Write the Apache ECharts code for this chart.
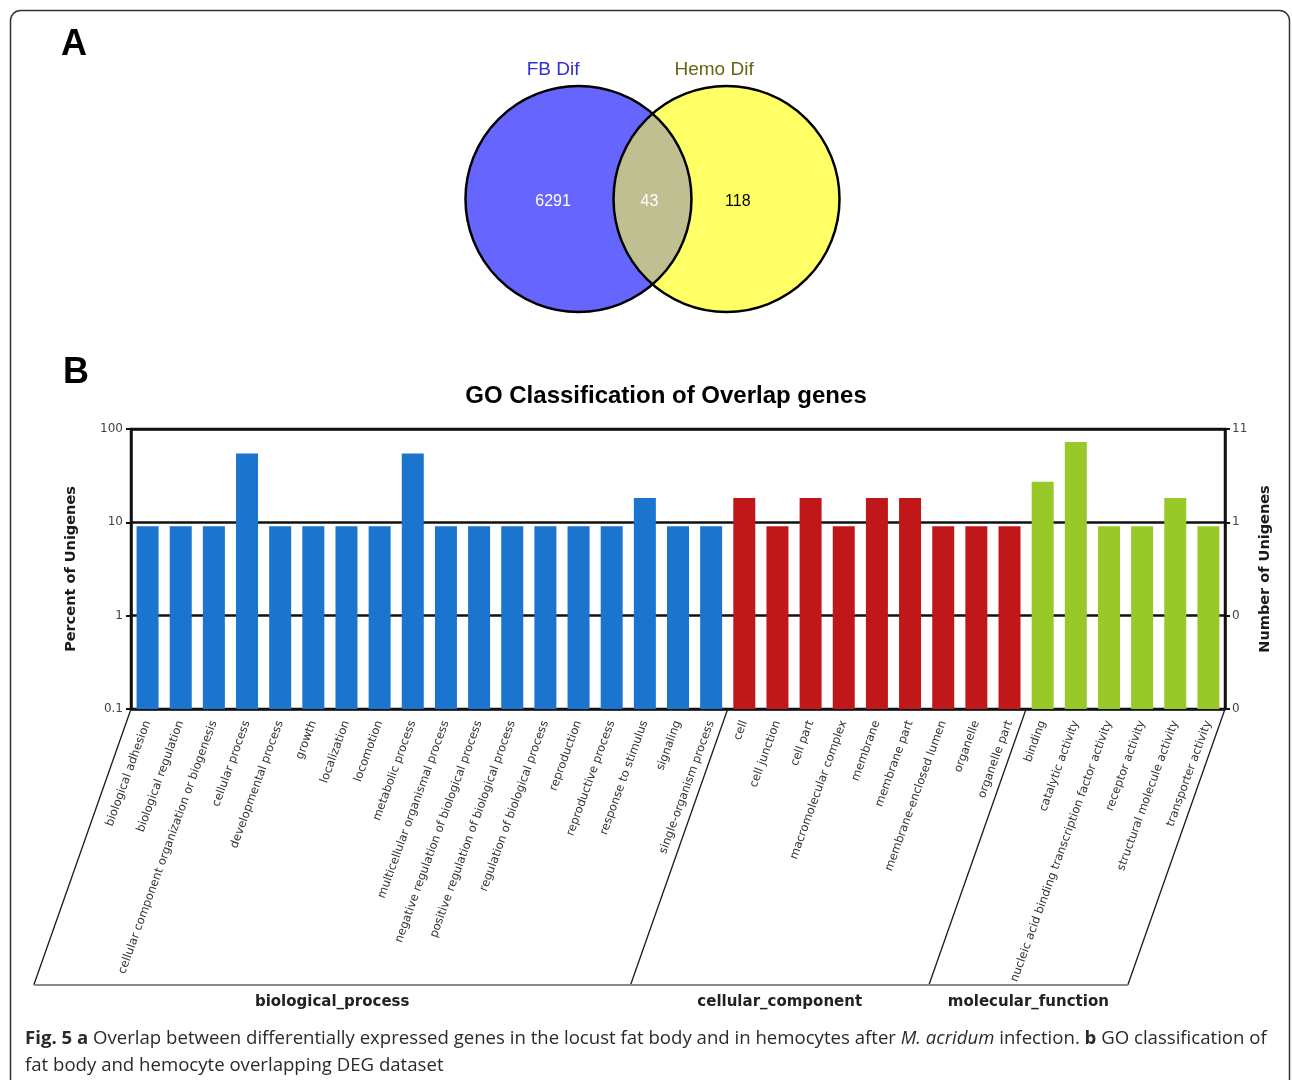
<!DOCTYPE html>
<html>
<head>
<meta charset="utf-8">
<script src="https://cdn.jsdelivr.net/npm/echarts@6/dist/echarts.min.js"></script>
<style>
  html, body { margin: 0; padding: 0; background: #ffffff; }
  #chart { width: 1292px; height: 1080px; }
</style>
</head>
<body>
<div id="chart"></div>
<script>
// ---- Panel A: Venn overlap of differentially expressed genes ----
const VENN_SETS = ['FB Dif', 'Hemo Dif'];
const VENN_ONLY = [6291, 118];     // genes found only in FB / only in Hemo
const VENN_SHARED = 43;            // genes found in both

// ---- Panel B: GO classification of the overlapping genes ----
const GO_GROUPS = ['biological_process', 'cellular_component', 'molecular_function'];
const BP_TERMS = [
  'biological adhesion', 'biological regulation', 'cellular component organization or biogenesis',
  'cellular process', 'developmental process', 'growth', 'localization', 'locomotion',
  'metabolic process', 'multicellular organismal process', 'negative regulation of biological process',
  'positive regulation of biological process', 'regulation of biological process', 'reproduction',
  'reproductive process', 'response to stimulus', 'signaling', 'single-organism process'
];
const BP_GENES = [1, 1, 1, 6, 1, 1, 1, 1, 6, 1, 1, 1, 1, 1, 1, 2, 1, 1];
const CC_TERMS = [
  'cell', 'cell junction', 'cell part', 'macromolecular complex', 'membrane', 'membrane part',
  'membrane-enclosed lumen', 'organelle', 'organelle part'
];
const CC_GENES = [2, 1, 2, 1, 2, 2, 1, 1, 1];
const MF_TERMS = [
  'binding', 'catalytic activity', 'nucleic acid binding transcription factor activity',
  'receptor activity', 'structural molecule activity', 'transporter activity'
];
const MF_GENES = [3, 8, 1, 1, 2, 1];
const TOTAL_GENES = 11;
const PERCENT_MIN = 0.1;
const PERCENT_MAX = 100;

const GROUP_COLORS = ['#1b74cd', '#c0181a', '#99c829'];

const groupTerms = [BP_TERMS, CC_TERMS, MF_TERMS];
const groupGenes = [BP_GENES, CC_GENES, MF_GENES];
const categories = [].concat(BP_TERMS, CC_TERMS, MF_TERMS);
const barData = [];
const groupSpans = [];
groupTerms.forEach((terms, g) => {
  const start = barData.length;
  terms.forEach((t, k) => {
    barData.push([barData.length, groupGenes[g][k] / TOTAL_GENES * 100, g]);
  });
  groupSpans.push({ value: [start, 1, barData.length - 1], name: GO_GROUPS[g] });
});

const chart = echarts.init(document.getElementById('chart'), null, { renderer: 'canvas' });

const BAR_W = 22;
const BRACKET_DROP = 276;
const BRACKET_SHIFT = BRACKET_DROP / Math.tan(70.6 * Math.PI / 180);
const VENN_OFFSET = 0.655;

function renderBar(params, api) {
  const idx = api.value(0);
  const top = api.coord([idx, api.value(1)]);
  const base = api.coord([idx, PERCENT_MIN]);
  return {
    type: 'rect',
    shape: { x: top[0] - BAR_W / 2, y: top[1], width: BAR_W, height: base[1] - top[1] },
    style: { fill: GROUP_COLORS[api.value(2)] }
  };
}

function renderBracket(params, api) {
  const start = api.value(0), end = api.value(2);
  const band = api.coord([1, 1])[0] - api.coord([0, 1])[0];
  const y0 = api.coord([start, PERCENT_MIN])[1];
  const xl = api.coord([start, 1])[0] - band / 2;
  const xr = api.coord([end, 1])[0] + band / 2;
  const yb = y0 + BRACKET_DROP;
  const lineStyle = { stroke: '#1a1a1a', lineWidth: 1.3 };
  const children = [];
  if (params.dataIndex === 0) {
    children.push({ type: 'line', shape: { x1: xl, y1: y0, x2: xl - BRACKET_SHIFT, y2: yb }, style: lineStyle });
  }
  children.push({ type: 'line', shape: { x1: xr, y1: y0, x2: xr - BRACKET_SHIFT, y2: yb }, style: lineStyle });
  children.push({ type: 'line', shape: { x1: xl - BRACKET_SHIFT, y1: yb, x2: xr - BRACKET_SHIFT, y2: yb },
    style: { stroke: '#8a8a8a', lineWidth: 2.2 } });
  children.push({
    type: 'text',
    style: {
      text: GO_GROUPS[params.dataIndex],
      x: (xl + xr) / 2 - BRACKET_SHIFT, y: yb + 17,
      align: 'center', verticalAlign: 'middle',
      font: 'bold 15px "DejaVu Sans"', fill: '#222'
    }
  });
  return { type: 'group', children };
}

// item 0: FB set, item 1: Hemo set, item 2: shared lens with both outlines on top
function renderVenn(params, api) {
  const c0 = api.coord([-VENN_OFFSET, 0]);
  const c1 = api.coord([VENN_OFFSET, 0]);
  const r = api.coord([1, 0])[0] - api.coord([0, 0])[0];
  const numFont = '16px "Liberation Sans"';
  const nameFont = '19px "Liberation Sans"';
  const i = params.dataIndex;
  if (i === 0) {
    return { type: 'group', children: [
      { type: 'circle', z2: 1, shape: { cx: c0[0], cy: c0[1], r }, style: { fill: '#6666ff' } },
      { type: 'text', z2: 10, style: { text: String(VENN_ONLY[0]), x: c0[0] - 0.225 * r, y: c0[1] + 3,
        align: 'center', verticalAlign: 'middle', font: numFont, fill: '#ffffff' } },
      { type: 'text', z2: 10, style: { text: VENN_SETS[0], x: c0[0] - 0.225 * r, y: c0[1] - 1.145 * r,
        align: 'center', verticalAlign: 'middle', font: nameFont, fill: '#3030d0' } }
    ] };
  }
  if (i === 1) {
    return { type: 'group', children: [
      { type: 'circle', z2: 2, shape: { cx: c1[0], cy: c1[1], r }, style: { fill: '#ffff66' } },
      { type: 'text', z2: 10, style: { text: String(VENN_ONLY[1]), x: c1[0] + 0.1 * r, y: c1[1] + 3,
        align: 'center', verticalAlign: 'middle', font: numFont, fill: '#000000' } },
      { type: 'text', z2: 10, style: { text: VENN_SETS[1], x: c1[0] - 0.11 * r, y: c1[1] - 1.145 * r,
        align: 'center', verticalAlign: 'middle', font: nameFont, fill: '#666610' } }
    ] };
  }
  const xm = (c0[0] + c1[0]) / 2;
  const d = c1[0] - c0[0];
  const h = Math.sqrt(r * r - (d / 2) * (d / 2));
  const y = c0[1];
  const lens = 'M ' + xm + ' ' + (y - h) +
    ' A ' + r + ' ' + r + ' 0 0 1 ' + xm + ' ' + (y + h) +
    ' A ' + r + ' ' + r + ' 0 0 1 ' + xm + ' ' + (y - h) + ' Z';
  return { type: 'group', children: [
    { type: 'path', z2: 3, shape: { pathData: lens }, style: { fill: '#bfbf91' } },
    { type: 'circle', z2: 4, shape: { cx: c0[0], cy: c0[1], r }, style: { fill: 'none', stroke: '#000', lineWidth: 2.5 } },
    { type: 'circle', z2: 4, shape: { cx: c1[0], cy: c1[1], r }, style: { fill: 'none', stroke: '#000', lineWidth: 2.5 } },
    { type: 'text', z2: 10, style: { text: String(VENN_SHARED), x: xm - 3, y: y + 3,
      align: 'center', verticalAlign: 'middle', font: numFont, fill: '#ffffff' } }
  ] };
}

const axisNameStyle = { fontFamily: 'DejaVu Sans', fontWeight: 'bold', fontSize: 14.5, color: '#1a1a1a' };
const tickLabelStyle = { fontFamily: 'DejaVu Sans', fontSize: 12, color: '#444' };

const option = {
  backgroundColor: '#ffffff',
  animation: false,
  title: [
    { text: 'A', left: 56, top: 22, textStyle: { fontFamily: 'Liberation Sans', fontWeight: 'bold', fontSize: 36, color: '#000' } },
    { text: 'B', left: 58, top: 350, textStyle: { fontFamily: 'Liberation Sans', fontWeight: 'bold', fontSize: 36, color: '#000' } },
    { text: 'GO Classification of Overlap genes', left: 661, top: 379, textAlign: 'center',
      textStyle: { fontFamily: 'Liberation Sans', fontWeight: 'bold', fontSize: 24, color: '#000' } }
  ],
  grid: [
    { left: 131, right: 67, top: 429, bottom: 371, show: true, borderColor: '#111', borderWidth: 2.5, backgroundColor: 'transparent' },
    { left: 426.5, width: 452, top: 63.4, height: 271.2, show: false }
  ],
  xAxis: [
    {
      type: 'category', gridIndex: 0, data: categories,
      axisLine: { show: false }, axisTick: { show: false },
      axisLabel: { interval: 0, rotate: 70, margin: 12, fontFamily: 'DejaVu Sans', fontSize: 11.6, color: '#333' }
    },
    { type: 'value', gridIndex: 1, min: -2, max: 2, show: false }
  ],
  yAxis: [
    {
      type: 'log', gridIndex: 0, logBase: 10, min: PERCENT_MIN, max: PERCENT_MAX, position: 'left',
      name: 'Percent of Unigenes', nameLocation: 'middle', nameRotate: 90, nameGap: 52, nameTextStyle: axisNameStyle,
      axisLine: { show: true, lineStyle: { color: '#111', width: 2.5 } },
      axisTick: { show: true, length: 5, lineStyle: { color: '#111', width: 2 } },
      minorTick: { show: false },
      axisLabel: Object.assign({ margin: 8, formatter: v => String(v) }, tickLabelStyle),
      splitLine: { show: true, lineStyle: { color: '#111', width: 2.5 } }
    },
    {
      type: 'log', gridIndex: 0, logBase: 10, min: PERCENT_MIN, max: PERCENT_MAX, position: 'right',
      name: 'Number of Unigenes', nameLocation: 'middle', nameRotate: 90, nameGap: 30, nameTextStyle: axisNameStyle,
      axisLine: { show: true, lineStyle: { color: '#111', width: 2.5 } },
      axisTick: { show: true, length: 5, lineStyle: { color: '#111', width: 2 } },
      axisLabel: Object.assign({ margin: 7, formatter: v => String(Math.round(v * TOTAL_GENES / 100)) }, tickLabelStyle),
      splitLine: { show: false }
    },
    { type: 'value', gridIndex: 1, min: -1.2, max: 1.2, show: false }
  ],
  series: [
    {
      type: 'custom', name: 'GO terms', xAxisIndex: 0, yAxisIndex: 0, z: 3,
      data: barData, encode: { x: 0, y: 1 }, renderItem: renderBar, clip: true
    },
    {
      type: 'custom', name: 'GO groups', xAxisIndex: 0, yAxisIndex: 0, z: 3,
      data: groupSpans, encode: { x: 0, y: 1 }, renderItem: renderBracket, clip: false, silent: true
    },
    {
      type: 'custom', name: 'Venn', xAxisIndex: 1, yAxisIndex: 2, z: 3,
      data: [[-1, 0], [1, 0], [0, 0]], encode: { x: 0, y: 1 }, renderItem: renderVenn, clip: false, silent: true
    }
  ],
  graphic: [
    {
      type: 'rect', z: -1, silent: true,
      shape: { x: 10.5, y: 10.5, width: 1279, height: 1100, r: 10 },
      style: { fill: 'none', stroke: '#333', lineWidth: 1.5 }
    },
    {
      type: 'text', left: 25, top: 1025, silent: true,
      style: {
        text: '{b|Fig. 5 a} Overlap between differentially expressed genes in the locust fat body and in hemocytes after {i|M. acridum} infection. {b|b} GO classification of\nfat body and hemocyte overlapping DEG dataset',
        font: '18.6px "Open Sans"', fill: '#2a2a2a', lineHeight: 27,
        rich: {
          b: { fontFamily: 'Open Sans', fontWeight: 'bold', fontSize: 18.6, fill: '#2a2a2a', lineHeight: 27 },
          i: { fontFamily: 'Open Sans', fontStyle: 'italic', fontSize: 18.6, fill: '#2a2a2a', lineHeight: 27 }
        }
      }
    }
  ]
};

chart.setOption(option);
</script>
</body>
</html>
